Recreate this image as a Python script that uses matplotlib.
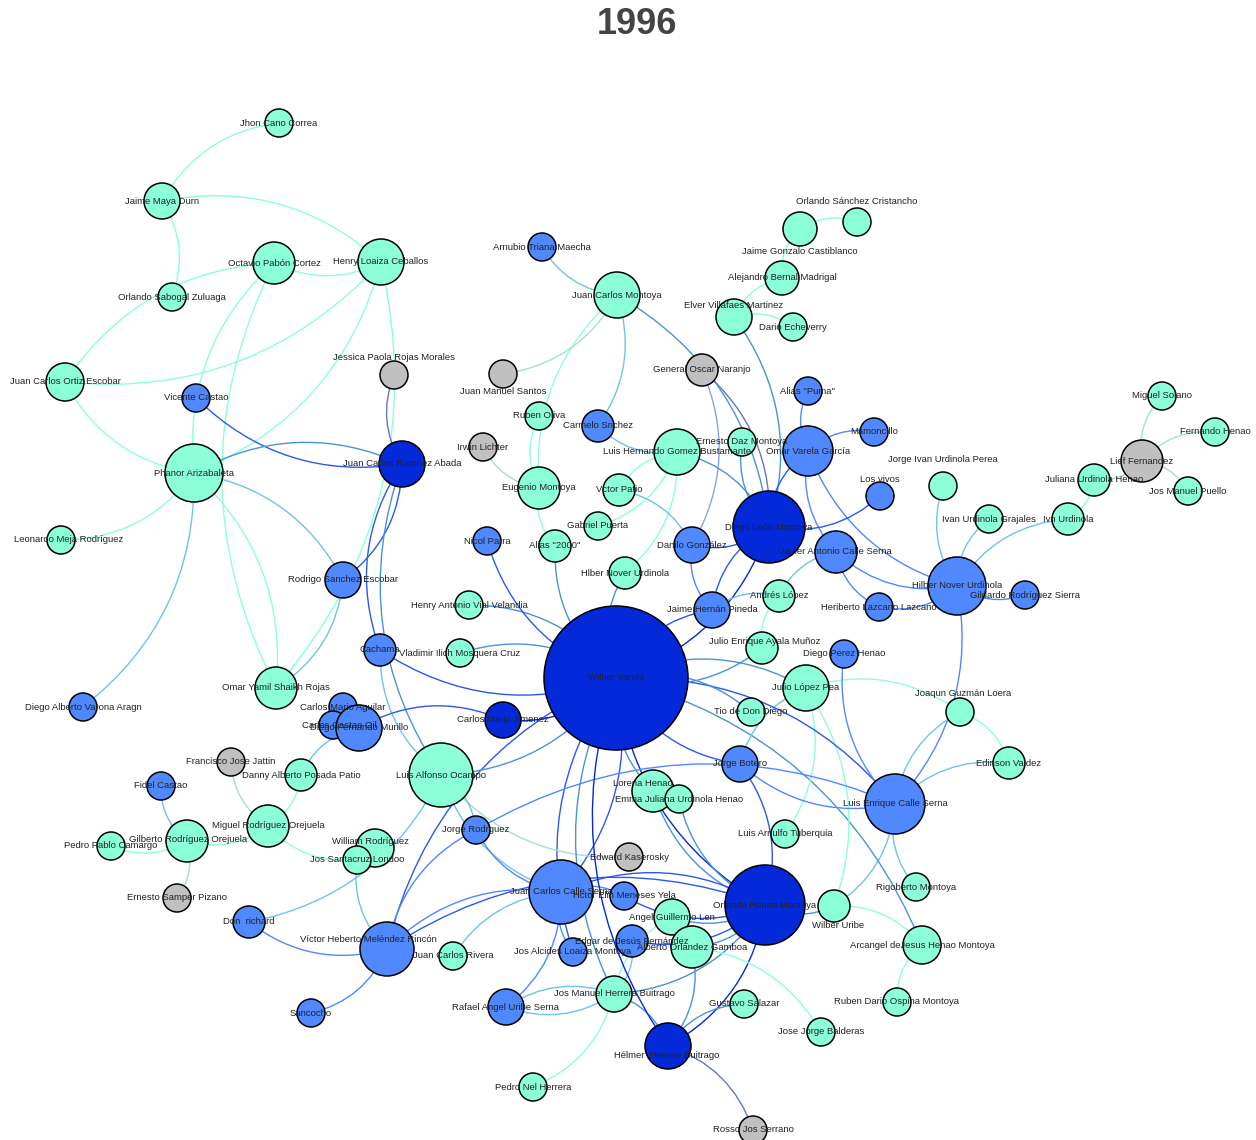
import matplotlib.pyplot as plt
import matplotlib.colors as mcolors
from matplotlib.patches import Circle, FancyArrowPatch
import numpy as np

plt.rcParams['font.family'] = ['Liberation Sans', 'DejaVu Sans']

# node data: name, group, weight (node size)
names = [
    'Jhon Cano Correa', 'Jaime Maya Durn', 'Octavio Pabón Cortez', 'Henry Loaiza Ceballos',
    'Orlando Sabogal Zuluaga', 'Jessica Paola Rojas Morales', 'Juan Carlos Ortiz Escobar',
    'Vicente Castao', 'Phanor Arizabaleta', 'Juan Carlos Ramírez Abada',
    'Leonardo Meja Rodríguez', 'Rodrigo Sanchez Escobar', 'Cachama', 'Omar Yamil Shaikh Rojas',
    'Diego Alberto Varona Aragn', 'Carlos Mario Aguilar', 'Carlos Castao Gil',
    'Diego Fernando Murillo', 'Francisco Jose Jattin', 'Danny Alberto Posada Patio',
    'Fidel Castao', 'Miguel Rodríguez Orejuela', 'Gilberto Rodríguez Orejuela',
    'Pedro Pablo Camargo', 'William Rodríguez', 'Jos Santacruz Londoo', 'Ernesto Samper Pizano',
    'Don  richard', 'Víctor Heberto Meléndez Rincón', 'Sancocho', 'Arnubio Triana Maecha',
    'Juan Carlos Montoya', 'Juan Manuel Santos', 'Ruben Oliva', 'Carmelo Snchez', 'Irwin Lichter',
    'Luis Hernando Gomez Bustamante', 'Eugenio Montoya', 'Vctor Patio', 'Gabriel Puerta',
    'Nicol Parra', 'Alias "2000"', 'Hlber Nover Urdinola', 'Henry Antonio Vial Velandia',
    'Vladimir Ilich Mosquera Cruz', 'Wilber Varela', 'Carlos Mario Jimenez', 'Luis Alfonso Ocampo',
    'Jorge Rodrguez', 'Edward Kaserosky', 'Juan Carlos Calle Serna', 'Hctor Elin Meneses Yela',
    'Juan Carlos Rivera', 'Jos Alcides Loaiza Montoya', 'Edgar de Jesús Fernández',
    'Jos Manuel Herrera Buitrago', 'Rafael Angel Uribe Serna', 'Pedro Nel Herrera',
    'Hélmer  Herrera Buitrago', 'Rosso Jos Serrano', 'Lorena Henao', 'Emma Juliana Urdinola Henao',
    'Jorge Botero', 'Luis Arnulfo Tuberquia', 'Orlando Henao Montoya', 'Angel Guillermo Len',
    'Alberto Orlandez Gamboa', 'Gustavo Salazar', 'Jose Jorge Balderas', 'Wilber Uribe',
    'Luis Enrique Calle Serna', 'Rigoberto Montoya', 'Arcangel deJesus Henao Montoya',
    'Ruben Dario Ospina Montoya', 'Edinson Valdez', 'Joaqun Guzmán Loera', 'Tio de Don Diego',
    'Julio López Pea', 'Diego Perez Henao', 'Julio Enrique Ayala Muñoz', 'Jaime Hernán Pineda',
    'Andrés López', 'Heriberto Lazcano Lazcano', 'Javier Antonio Calle Serna', 'Danilo González',
    'Diego León Montoya', 'Hilber Nover Urdinola', 'Gildardo Rodríguez Sierra',
    'Jorge Ivan Urdinola Perea', 'Los vivos', 'Ivan Urdinola Grajales', 'Ivn Urdinola',
    'Juliana Urdinola Henao', 'Lief Fernandez', 'Miguel Solano', 'Fernando Henao',
    'Jos Manuel Puello', 'Mamoncillo', 'Omar Varela García', 'Alias "Puma"', 'Ernesto Daz Montoya',
    'General Oscar Naranjo', 'Elver Villafaes Martinez', 'Dario Echeverry',
    'Alejandro Bernal Madrigal', 'Jaime Gonzalo Castiblanco', 'Orlando Sánchez Cristancho',
]

groups = [
    'aqua', 'aqua', 'aqua', 'aqua', 'aqua', 'gray', 'aqua', 'blue', 'aqua', 'dark',
    'aqua', 'blue', 'blue', 'aqua', 'blue', 'blue', 'blue', 'blue', 'gray', 'aqua',
    'blue', 'aqua', 'aqua', 'aqua', 'aqua', 'aqua', 'gray', 'blue', 'blue', 'blue', 'blue',
    'aqua', 'gray', 'aqua', 'blue', 'gray', 'aqua', 'aqua', 'aqua', 'aqua',
    'blue', 'aqua', 'aqua', 'aqua', 'aqua', 'dark', 'dark', 'aqua',
    'blue', 'gray', 'blue', 'blue', 'aqua', 'blue', 'blue',
    'aqua', 'blue', 'aqua', 'dark', 'gray', 'aqua', 'aqua',
    'blue', 'aqua', 'dark', 'aqua', 'aqua', 'aqua', 'aqua', 'aqua',
    'blue', 'aqua', 'aqua', 'aqua', 'aqua', 'aqua', 'aqua',
    'aqua', 'blue', 'aqua', 'blue', 'aqua', 'blue', 'blue', 'blue',
    'dark', 'blue', 'blue', 'aqua', 'blue', 'aqua', 'aqua',
    'aqua', 'gray', 'aqua', 'aqua', 'aqua', 'blue', 'blue', 'blue', 'aqua',
    'gray', 'aqua', 'aqua', 'aqua', 'aqua', 'aqua',
]

weights = [
    14, 18, 21, 23, 14, 14, 19, 14, 29, 23,
    14, 18, 16, 21, 14, 14, 14, 23, 14, 16,
    14, 21, 21, 14, 19, 14, 14, 16, 27, 14, 14,
    23, 14, 14, 16, 14, 23, 21, 16, 14,
    14, 16, 16, 14, 14, 72, 18, 32,
    14, 14, 32, 14, 14, 14, 16,
    18, 18, 14, 23, 14, 21, 14,
    18, 14, 40, 18, 21, 14, 14, 16,
    30, 14, 19, 14, 16, 14, 14,
    23, 14, 16, 18, 16, 14, 21, 18,
    36, 29, 14, 14, 14, 14, 16,
    16, 21, 14, 14, 14, 14, 25, 14, 14,
    16, 18, 14, 17, 17, 14,
]

edges = [
    ('Jhon Cano Correa', 'Jaime Maya Durn'),
    ('Henry Loaiza Ceballos', 'Jaime Maya Durn'),
    ('Orlando Sabogal Zuluaga', 'Jaime Maya Durn'),
    ('Octavio Pabón Cortez', 'Henry Loaiza Ceballos'),
    ('Octavio Pabón Cortez', 'Juan Carlos Ortiz Escobar'),
    ('Juan Carlos Ortiz Escobar', 'Henry Loaiza Ceballos'),
    ('Juan Carlos Ortiz Escobar', 'Phanor Arizabaleta'),
    ('Octavio Pabón Cortez', 'Phanor Arizabaleta'),
    ('Octavio Pabón Cortez', 'Omar Yamil Shaikh Rojas'),
    ('Phanor Arizabaleta', 'Henry Loaiza Ceballos'),
    ('Omar Yamil Shaikh Rojas', 'Henry Loaiza Ceballos'),
    ('Jessica Paola Rojas Morales', 'Juan Carlos Ramírez Abada'),
    ('Vicente Castao', 'Juan Carlos Ramírez Abada'),
    ('Juan Carlos Ramírez Abada', 'Phanor Arizabaleta'),
    ('Rodrigo Sanchez Escobar', 'Phanor Arizabaleta'),
    ('Leonardo Meja Rodríguez', 'Phanor Arizabaleta'),
    ('Diego Alberto Varona Aragn', 'Phanor Arizabaleta'),
    ('Omar Yamil Shaikh Rojas', 'Phanor Arizabaleta'),
    ('Rodrigo Sanchez Escobar', 'Juan Carlos Ramírez Abada'),
    ('Omar Yamil Shaikh Rojas', 'Rodrigo Sanchez Escobar'),
    ('Juan Carlos Ramírez Abada', 'Cachama'),
    ('Juan Carlos Ramírez Abada', 'Luis Alfonso Ocampo'),
    ('Cachama', 'Luis Alfonso Ocampo'),
    ('Cachama', 'Wilber Varela'),
    ('Wilber Varela', 'Vladimir Ilich Mosquera Cruz'),
    ('Wilber Varela', 'Henry Antonio Vial Velandia'),
    ('Nicol Parra', 'Wilber Varela'),
    ('Alias "2000"', 'Wilber Varela'),
    ('Hlber Nover Urdinola', 'Wilber Varela'),
    ('Eugenio Montoya', 'Alias "2000"'),
    ('Irwin Lichter', 'Eugenio Montoya'),
    ('Ruben Oliva', 'Eugenio Montoya'),
    ('Juan Carlos Montoya', 'Eugenio Montoya'),
    ('Juan Manuel Santos', 'Juan Carlos Montoya'),
    ('Arnubio Triana Maecha', 'Juan Carlos Montoya'),
    ('Carmelo Snchez', 'Juan Carlos Montoya'),
    ('Diego León Montoya', 'Juan Carlos Montoya'),
    ('Diego León Montoya', 'General Oscar Naranjo'),
    ('Danilo González', 'General Oscar Naranjo'),
    ('Diego León Montoya', 'Elver Villafaes Martinez'),
    ('Dario Echeverry', 'Elver Villafaes Martinez'),
    ('Alejandro Bernal Madrigal', 'Elver Villafaes Martinez'),
    ('Jaime Gonzalo Castiblanco', 'Alejandro Bernal Madrigal'),
    ('Orlando Sánchez Cristancho', 'Jaime Gonzalo Castiblanco'),
    ('Alias "Puma"', 'Omar Varela García'),
    ('Mamoncillo', 'Omar Varela García'),
    ('Omar Varela García', 'Diego León Montoya'),
    ('Omar Varela García', 'Hilber Nover Urdinola'),
    ('Omar Varela García', 'Javier Antonio Calle Serna'),
    ('Diego León Montoya', 'Los vivos'),
    ('Ernesto Daz Montoya', 'Diego León Montoya'),
    ('Diego León Montoya', 'Luis Hernando Gomez Bustamante'),
    ('Carmelo Snchez', 'Luis Hernando Gomez Bustamante'),
    ('Luis Hernando Gomez Bustamante', 'Vctor Patio'),
    ('Gabriel Puerta', 'Luis Hernando Gomez Bustamante'),
    ('Hlber Nover Urdinola', 'Luis Hernando Gomez Bustamante'),
    ('Danilo González', 'Vctor Patio'),
    ('Danilo González', 'Diego León Montoya'),
    ('Danilo González', 'Jaime Hernán Pineda'),
    ('Diego León Montoya', 'Jaime Hernán Pineda'),
    ('Wilber Varela', 'Diego León Montoya'),
    ('Javier Antonio Calle Serna', 'Hilber Nover Urdinola'),
    ('Javier Antonio Calle Serna', 'Heriberto Lazcano Lazcano'),
    ('Javier Antonio Calle Serna', 'Andrés López'),
    ('Heriberto Lazcano Lazcano', 'Hilber Nover Urdinola'),
    ('Jorge Ivan Urdinola Perea', 'Hilber Nover Urdinola'),
    ('Ivan Urdinola Grajales', 'Hilber Nover Urdinola'),
    ('Ivn Urdinola', 'Hilber Nover Urdinola'),
    ('Hilber Nover Urdinola', 'Gildardo Rodríguez Sierra'),
    ('Luis Enrique Calle Serna', 'Hilber Nover Urdinola'),
    ('Ivn Urdinola', 'Juliana Urdinola Henao'),
    ('Juliana Urdinola Henao', 'Lief Fernandez'),
    ('Miguel Solano', 'Lief Fernandez'),
    ('Fernando Henao', 'Lief Fernandez'),
    ('Jos Manuel Puello', 'Lief Fernandez'),
    ('Joaqun Guzmán Loera', 'Luis Enrique Calle Serna'),
    ('Edinson Valdez', 'Joaqun Guzmán Loera'),
    ('Joaqun Guzmán Loera', 'Julio López Pea'),
    ('Edinson Valdez', 'Luis Enrique Calle Serna'),
    ('Luis Enrique Calle Serna', 'Rigoberto Montoya'),
    ('Wilber Uribe', 'Luis Enrique Calle Serna'),
    ('Arcangel deJesus Henao Montoya', 'Wilber Uribe'),
    ('Arcangel deJesus Henao Montoya', 'Ruben Dario Ospina Montoya'),
    ('Arcangel deJesus Henao Montoya', 'Wilber Varela'),
    ('Wilber Uribe', 'Julio López Pea'),
    ('Luis Arnulfo Tuberquia', 'Julio López Pea'),
    ('Julio López Pea', 'Jorge Botero'),
    ('Orlando Henao Montoya', 'Wilber Uribe'),
    ('Hélmer  Herrera Buitrago', 'Orlando Henao Montoya'),
    ('Orlando Henao Montoya', 'Jorge Botero'),
    ('Wilber Varela', 'Orlando Henao Montoya'),
    ('Lorena Henao', 'Orlando Henao Montoya'),
    ('Emma Juliana Urdinola Henao', 'Orlando Henao Montoya'),
    ('Orlando Henao Montoya', 'Juan Carlos Calle Serna'),
    ('Hctor Elin Meneses Yela', 'Orlando Henao Montoya'),
    ('Angel Guillermo Len', 'Orlando Henao Montoya'),
    ('Alberto Orlandez Gamboa', 'Orlando Henao Montoya'),
    ('Edgar de Jesús Fernández', 'Orlando Henao Montoya'),
    ('Jos Manuel Herrera Buitrago', 'Orlando Henao Montoya'),
    ('Orlando Henao Montoya', 'Víctor Heberto Meléndez Rincón'),
    ('Rafael Angel Uribe Serna', 'Jos Manuel Herrera Buitrago'),
    ('Jos Manuel Herrera Buitrago', 'Rafael Angel Uribe Serna'),
    ('Pedro Nel Herrera', 'Jos Manuel Herrera Buitrago'),
    ('Jos Manuel Herrera Buitrago', 'Edgar de Jesús Fernández'),
    ('Angel Guillermo Len', 'Jos Manuel Herrera Buitrago'),
    ('Hélmer  Herrera Buitrago', 'Jos Manuel Herrera Buitrago'),
    ('Rafael Angel Uribe Serna', 'Juan Carlos Calle Serna'),
    ('Juan Carlos Calle Serna', 'Juan Carlos Rivera'),
    ('Juan Carlos Calle Serna', 'Jos Alcides Loaiza Montoya'),
    ('Hctor Elin Meneses Yela', 'Juan Carlos Calle Serna'),
    ('Juan Carlos Calle Serna', 'Víctor Heberto Meléndez Rincón'),
    ('Juan Carlos Calle Serna', 'Wilber Varela'),
    ('Wilber Varela', 'Jos Alcides Loaiza Montoya'),
    ('Luis Alfonso Ocampo', 'Juan Carlos Calle Serna'),
    ('Luis Alfonso Ocampo', 'Edward Kaserosky'),
    ('Don  richard', 'Víctor Heberto Meléndez Rincón'),
    ('Sancocho', 'Víctor Heberto Meléndez Rincón'),
    ('Jos Santacruz Londoo', 'Víctor Heberto Meléndez Rincón'),
    ('Wilber Varela', 'Víctor Heberto Meléndez Rincón'),
    ('Jorge Rodrguez', 'Víctor Heberto Meléndez Rincón'),
    ('Don  richard', 'Luis Alfonso Ocampo'),
    ('Miguel Rodríguez Orejuela', 'Jos Santacruz Londoo'),
    ('Gilberto Rodríguez Orejuela', 'Miguel Rodríguez Orejuela'),
    ('Miguel Rodríguez Orejuela', 'Danny Alberto Posada Patio'),
    ('Francisco Jose Jattin', 'Miguel Rodríguez Orejuela'),
    ('Pedro Pablo Camargo', 'Gilberto Rodríguez Orejuela'),
    ('Fidel Castao', 'Gilberto Rodríguez Orejuela'),
    ('Ernesto Samper Pizano', 'Gilberto Rodríguez Orejuela'),
    ('Diego Fernando Murillo', 'Danny Alberto Posada Patio'),
    ('Diego Fernando Murillo', 'Carlos Mario Aguilar'),
    ('Diego Fernando Murillo', 'Carlos Castao Gil'),
    ('Carlos Mario Jimenez', 'Diego Fernando Murillo'),
    ('Carlos Mario Jimenez', 'Wilber Varela'),
    ('Luis Alfonso Ocampo', 'Wilber Varela'),
    ('Jorge Rodrguez', 'Juan Carlos Calle Serna'),
    ('Jorge Rodrguez', 'Luis Alfonso Ocampo'),
    ('Luis Enrique Calle Serna', 'Jorge Rodrguez'),
    ('Wilber Varela', 'Lorena Henao'),
    ('Wilber Varela', 'Jorge Botero'),
    ('Jorge Botero', 'Luis Enrique Calle Serna'),
    ('Luis Enrique Calle Serna', 'Wilber Varela'),
    ('Diego Perez Henao', 'Luis Enrique Calle Serna'),
    ('Tio de Don Diego', 'Wilber Varela'),
    ('Wilber Varela', 'Julio Enrique Ayala Muñoz'),
    ('Julio López Pea', 'Wilber Varela'),
    ('Andrés López', 'Jaime Hernán Pineda'),
    ('Andrés López', 'Julio Enrique Ayala Muñoz'),
    ('Jaime Hernán Pineda', 'Wilber Varela'),
    ('Gustavo Salazar', 'Hélmer  Herrera Buitrago'),
    ('Jose Jorge Balderas', 'Alberto Orlandez Gamboa'),
    ('Hélmer  Herrera Buitrago', 'Alberto Orlandez Gamboa'),
    ('Rosso Jos Serrano', 'Hélmer  Herrera Buitrago'),
    ('Wilber Varela', 'Hélmer  Herrera Buitrago'),
    ('Wilber Varela', 'Jos Manuel Herrera Buitrago'),
]

# layout (pixel coordinates of the original drawing, y downwards)
layout = {
    'Jhon Cano Correa': (279, 123), 'Jaime Maya Durn': (162, 201),
    'Octavio Pabón Cortez': (274, 263), 'Henry Loaiza Ceballos': (381, 262),
    'Orlando Sabogal Zuluaga': (172, 297), 'Jessica Paola Rojas Morales': (394, 375),
    'Juan Carlos Ortiz Escobar': (65, 382), 'Vicente Castao': (196, 398),
    'Phanor Arizabaleta': (194, 473), 'Juan Carlos Ramírez Abada': (402, 464),
    'Leonardo Meja Rodríguez': (61, 540), 'Rodrigo Sanchez Escobar': (343, 580),
    'Cachama': (380, 650), 'Omar Yamil Shaikh Rojas': (276, 688),
    'Diego Alberto Varona Aragn': (83, 707), 'Carlos Mario Aguilar': (343, 707),
    'Carlos Castao Gil': (333, 725), 'Diego Fernando Murillo': (359, 728),
    'Francisco Jose Jattin': (231, 762), 'Danny Alberto Posada Patio': (301, 775),
    'Fidel Castao': (161, 786), 'Miguel Rodríguez Orejuela': (268, 826),
    'Gilberto Rodríguez Orejuela': (187, 841), 'Pedro Pablo Camargo': (111, 846),
    'William Rodríguez': (375, 848), 'Jos Santacruz Londoo': (357, 860),
    'Ernesto Samper Pizano': (177, 898), 'Don  richard': (249, 922),
    'Víctor Heberto Meléndez Rincón': (387, 949), 'Sancocho': (311, 1013),
    'Arnubio Triana Maecha': (542, 247), 'Juan Carlos Montoya': (617, 295),
    'Juan Manuel Santos': (503, 374), 'Ruben Oliva': (539, 416),
    'Carmelo Snchez': (598, 426), 'Irwin Lichter': (483, 447),
    'Luis Hernando Gomez Bustamante': (677, 452), 'Eugenio Montoya': (539, 488),
    'Vctor Patio': (619, 490), 'Gabriel Puerta': (598, 526),
    'Nicol Parra': (487, 541), 'Alias "2000"': (555, 546),
    'Hlber Nover Urdinola': (625, 573), 'Henry Antonio Vial Velandia': (469, 605),
    'Vladimir Ilich Mosquera Cruz': (460, 653), 'Wilber Varela': (616, 678),
    'Carlos Mario Jimenez': (503, 720), 'Luis Alfonso Ocampo': (441, 775),
    'Jorge Rodrguez': (476, 830), 'Edward Kaserosky': (629, 857),
    'Juan Carlos Calle Serna': (561, 892), 'Hctor Elin Meneses Yela': (624, 896),
    'Juan Carlos Rivera': (453, 956), 'Jos Alcides Loaiza Montoya': (573, 952),
    'Edgar de Jesús Fernández': (632, 941), 'Jos Manuel Herrera Buitrago': (614, 994),
    'Rafael Angel Uribe Serna': (506, 1007), 'Pedro Nel Herrera': (533, 1087),
    'Hélmer  Herrera Buitrago': (668, 1046), 'Rosso Jos Serrano': (753, 1130),
    'Lorena Henao': (653, 791), 'Emma Juliana Urdinola Henao': (679, 799),
    'Jorge Botero': (740, 764), 'Luis Arnulfo Tuberquia': (785, 834),
    'Orlando Henao Montoya': (765, 905), 'Angel Guillermo Len': (672, 917),
    'Alberto Orlandez Gamboa': (692, 947), 'Gustavo Salazar': (744, 1004),
    'Jose Jorge Balderas': (821, 1032), 'Wilber Uribe': (834, 906),
    'Luis Enrique Calle Serna': (895, 804), 'Rigoberto Montoya': (916, 887),
    'Arcangel deJesus Henao Montoya': (922, 945), 'Ruben Dario Ospina Montoya': (897, 1002),
    'Edinson Valdez': (1009, 763), 'Joaqun Guzmán Loera': (960, 712),
    'Tio de Don Diego': (751, 712), 'Julio López Pea': (806, 688),
    'Diego Perez Henao': (844, 654), 'Julio Enrique Ayala Muñoz': (762, 648),
    'Jaime Hernán Pineda': (712, 610), 'Andrés López': (779, 596),
    'Heriberto Lazcano Lazcano': (879, 607), 'Javier Antonio Calle Serna': (836, 552),
    'Danilo González': (692, 545), 'Diego León Montoya': (769, 527),
    'Hilber Nover Urdinola': (957, 586), 'Gildardo Rodríguez Sierra': (1025, 595),
    'Jorge Ivan Urdinola Perea': (943, 486), 'Los vivos': (880, 496),
    'Ivan Urdinola Grajales': (989, 519), 'Ivn Urdinola': (1068, 519),
    'Juliana Urdinola Henao': (1094, 480), 'Lief Fernandez': (1142, 461),
    'Miguel Solano': (1162, 396), 'Fernando Henao': (1215, 432),
    'Jos Manuel Puello': (1188, 491), 'Mamoncillo': (874, 432),
    'Omar Varela García': (808, 451), 'Alias "Puma"': (808, 391),
    'Ernesto Daz Montoya': (742, 442), 'General Oscar Naranjo': (702, 370),
    'Elver Villafaes Martinez': (734, 317), 'Dario Echeverry': (793, 327),
    'Alejandro Bernal Madrigal': (782, 278), 'Jaime Gonzalo Castiblanco': (800, 229),
    'Orlando Sánchez Cristancho': (857, 222),
}

# label offsets from node centre (px)
label_shift = {
    'Jessica Paola Rojas Morales': (0, -17), 'Jaime Gonzalo Castiblanco': (0, 22),
    'Orlando Sánchez Cristancho': (0, -20), 'Elver Villafaes Martinez': (0, -12),
    'Juan Manuel Santos': (0, 17), 'Jorge Ivan Urdinola Perea': (0, -26),
    'Los vivos': (0, -17), 'Joaqun Guzmán Loera': (3, -18),
    'Julio Enrique Ayala Muñoz': (3, -7), 'Leonardo Meja Rodríguez': (8, 0),
    'Víctor Heberto Meléndez Rincón': (-19, -10), 'Wilber Uribe': (4, 20),
    'Hélmer  Herrera Buitrago': (-1, 10), 'Lorena Henao': (-10, -7),
    'William Rodríguez': (-5, -6), 'Carlos Castao Gil': (6, 0),
    'Gilberto Rodríguez Orejuela': (1, -2),
}

palette = {'aqua': '#8affd8', 'blue': '#5088ff', 'dark': '#0329d8', 'gray': '#c0c0c0'}

fig = plt.figure(figsize=(12.56, 11.4), dpi=100)
ax = fig.add_axes([0, 0, 1, 1])
ax.set_xlim(0, 1256)
ax.set_ylim(1140, 0)
ax.axis('off')

col = {n: np.array(mcolors.to_rgb(palette[g])) for n, g in zip(names, groups)}

for a, b in edges:
    c = (col[a] + col[b]) / 2
    e = FancyArrowPatch(layout[a], layout[b], arrowstyle='-', shrinkA=0, shrinkB=0,
                        connectionstyle='arc3,rad=0.25', color=c, lw=1.0, zorder=1)
    ax.add_patch(e)

for n, g, w in zip(names, groups, weights):
    ax.add_patch(Circle(layout[n], w, facecolor=palette[g], edgecolor='black',
                        lw=1.1, zorder=2))

for n in names:
    x, y = layout[n]
    dx, dy = label_shift.get(n, (0, 0))
    ax.text(x + dx, y + dy, n, ha='center', va='center', fontsize=6.8,
            color='#222222', zorder=3)

ax.text(637, 24, '1996', ha='center', va='center', fontsize=26,
        fontweight='bold', color='#444444')

fig.savefig('out.png', dpi=100)
